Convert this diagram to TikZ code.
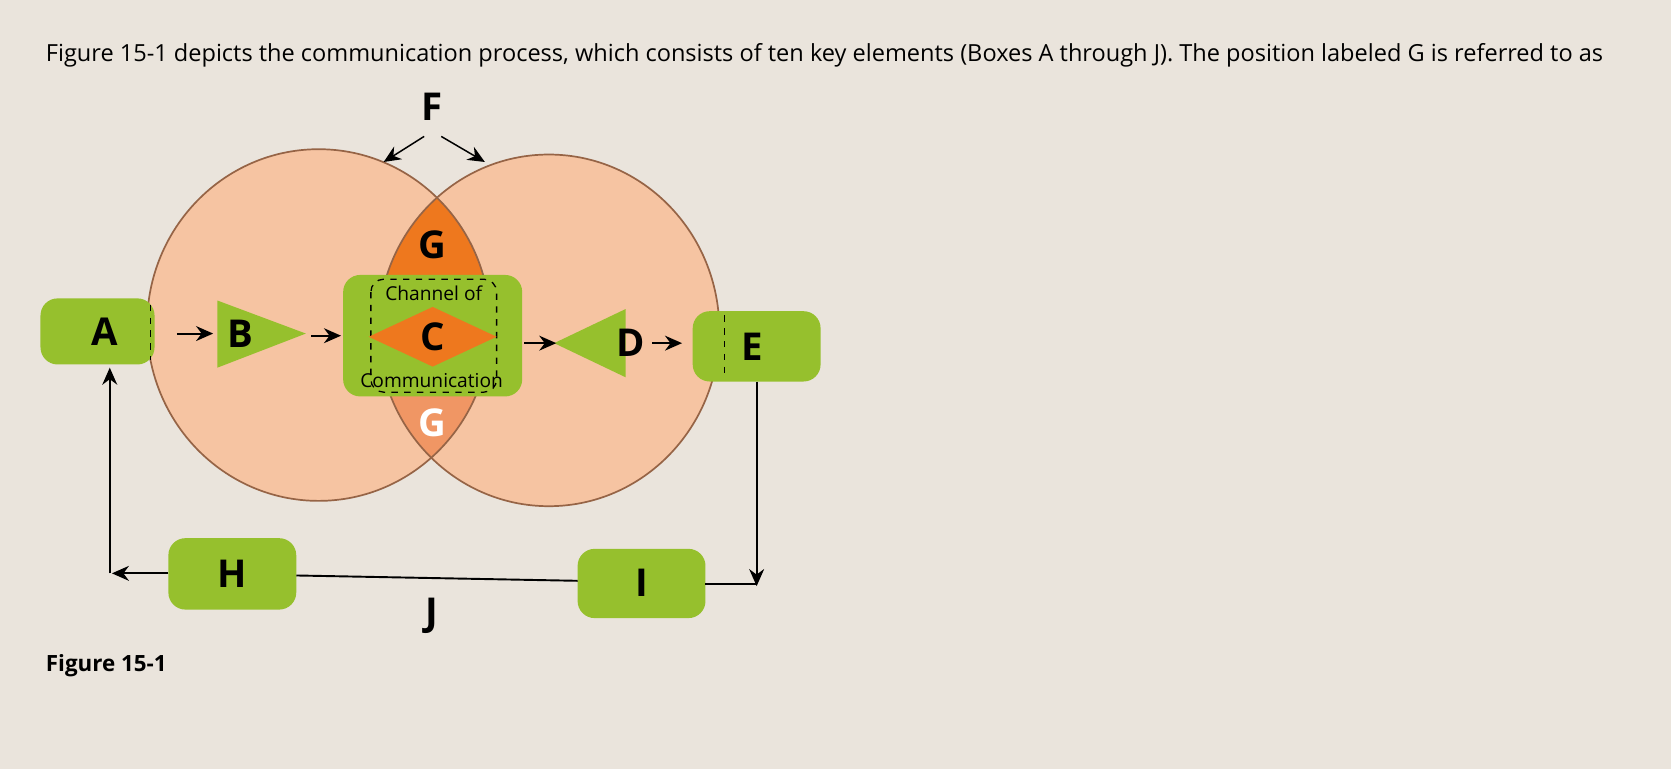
\documentclass[tikz,border=0pt]{standalone}
\usepackage{fontspec}
\setmainfont{Open Sans}
\usetikzlibrary{arrows.meta,shapes.geometric}
\definecolor{bg}{RGB}{234,228,220}
\definecolor{peach}{RGB}{246,196,162}
\definecolor{rim}{RGB}{150,100,70}
\definecolor{gr}{RGB}{150,192,45}
\definecolor{org}{RGB}{238,120,30}
\definecolor{lorg}{RGB}{240,150,100}
\tikzset{x=0.5pt,y=-0.5pt,
 gbox/.style={fill=gr,rounded corners=8pt,draw=none},
 big/.style={font=\fontsize{18}{20}\selectfont\bfseries},
 arr/.style={-{Stealth[length=8pt,width=7pt]},line width=0.9pt},
 ln/.style={line width=0.9pt}}
\begin{document}
\begin{tikzpicture}
\fill[bg] (0,0) rectangle (1568,722);
\useasboundingbox (0,0) rectangle (1568,722);
\node[anchor=west,font=\fontsize{11.05}{12}\selectfont] (hdr) at (36,52) {Figure 15-1 depicts the communication process, which consists of ten key elements (Boxes A through J). The position labeled G is referred to as};
\fill[peach] (299,305) ellipse [x radius=161,y radius=165];
\fill[peach] (515,310) ellipse [x radius=160,y radius=165];
\begin{scope}
\clip (299,305) ellipse [x radius=161,y radius=165];
\clip (515,310) ellipse [x radius=160,y radius=165];
\fill[lorg] (300,300) rectangle (520,480);
\fill[org] (300,140) rectangle (520,300);
\end{scope}
\draw[rim,line width=0.8pt] (299,305) ellipse [x radius=161,y radius=165];
\draw[rim,line width=0.8pt] (515,310) ellipse [x radius=160,y radius=165];
\node[big] (g1) at (406,230) {G};
\node[big,text=white] (g2) at (406,397) {G};
\node[big] (f) at (405,100) {F};
\coordinate (fl) at (360,152); \coordinate (fr) at (455,152);
\draw[arr,line width=0.7pt] (398,128) -- (fl);
\draw[arr,line width=0.7pt] (414,128) -- (fr);
% channel box
\draw[gbox] (322,258) rectangle (490,372);
\draw[dashed,rounded corners=6pt,line width=0.6pt] (348,262) rectangle (466,368);
\fill[org] (346,316) -- (406,288) -- (466,316) -- (406,344) -- cycle;
\node[big] (c) at (406,316) {C};
\node[font=\fontsize{9}{10}\selectfont] (ch) at (407,275) {Channel of};
\node[font=\fontsize{9}{10}\selectfont] (cm) at (405,357) {Communication};
\coordinate (cl) at (320,315); \coordinate (cr) at (492,322);
% A, E
\draw[gbox] (38,280) rectangle (145,342); \node[big] (a) at (98,311) {A};
\draw[dashed,line width=0.6pt] (141,286) -- (141,338);
\draw[gbox] (650,292) rectangle (770,358); \node[big] (e) at (706,325) {E};
\draw[dashed,line width=0.6pt] (680,296) -- (680,354);
% B, D triangles
\fill[gr] (204,282) -- (204,345) -- (287,313) -- cycle; \node[big] (b) at (226,313) {B};
\fill[gr] (520,322) -- (587,290) -- (587,354) -- cycle; \node[big] (d) at (592,322) {D};
\draw[arr] (166,313) -- (200,313);
\draw[arr] (292,315) -- (cl);
\draw[arr] (cr) -- (522,322);
\draw[arr] (612,322) -- (640,322);
% H, I, J
\draw[gbox] (158,505) rectangle (278,572); \node[big] (h) at (218,538) {H};
\draw[gbox] (542,515) rectangle (662,580); \node[big] (i) at (602,547) {I};
\node[big] (j) at (405,578) {J};
\draw[ln] (278,540) -- (542,545);
\draw[ln] (662,548) -- (710,548);
\draw[arr] (710,358) -- (710,550);
\draw[arr] (158,538) -- (105,538);
\draw[arr] (103,538) -- (103,345);
\node[anchor=west,font=\fontsize{10.5}{12}\selectfont\bfseries] (fig) at (36,625) {Figure 15-1};
\end{tikzpicture}
\end{document}
